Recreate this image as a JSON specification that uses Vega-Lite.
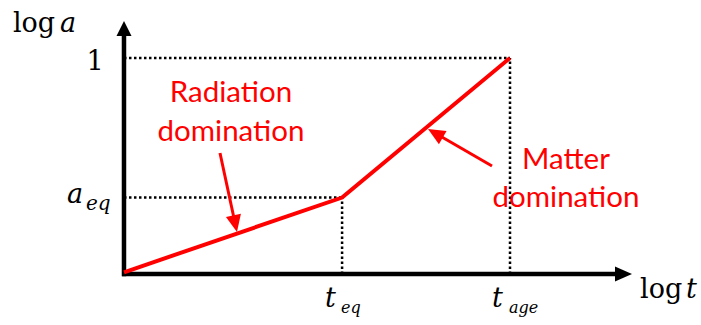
{
  "$schema": "https://vega.github.io/schema/vega-lite/v6.json",
  "width": 701,
  "height": 325,
  "autosize": {"type": "fit", "contains": "padding"},
  "padding": 0,
  "background": "white",
  "config": {"view": {"stroke": null}},
  "datasets": {
    "segs": [
      {"kind": "axis", "x": -0.005, "y": 0, "x2": 1.275, "y2": 0},
      {"kind": "axis", "x": 0, "y": -0.01, "x2": 0, "y2": 1.105},
      {"kind": "dot", "x": 0, "y": 1, "x2": 1, "y2": 1},
      {"kind": "dot", "x": 0, "y": 0.354, "x2": 0.565, "y2": 0.354},
      {"kind": "dot", "x": 0.565, "y": 0, "x2": 0.565, "y2": 0.354},
      {"kind": "dot", "x": 1, "y": 0, "x2": 1, "y2": 1},
      {"kind": "arrow", "x": 0.2487, "y": 0.5602, "x2": 0.2881, "y2": 0.2329},
      {"kind": "arrow", "x": 0.9534, "y": 0.5, "x2": 0.8067, "y2": 0.6516}
    ],
    "curve": [
      {"x": 0, "y": 0.008},
      {"x": 0.565, "y": 0.354},
      {"x": 1, "y": 1}
    ],
    "heads": [
      {"kind": "xaxis", "x": 1.294, "y": 0},
      {"kind": "yaxis", "x": 0, "y": 1.1366},
      {"kind": "rad", "x": 0.2881, "y": 0.2329},
      {"kind": "mat", "x": 0.8067, "y": 0.6516}
    ],
    "labels": [
      {"kind": "serif", "x": -0.2876, "y": 1.1204, "text": "log"},
      {"kind": "ital", "x": -0.1658, "y": 1.1204, "text": "a"},
      {"kind": "serif", "x": 1.3368, "y": -0.1111, "text": "log"},
      {"kind": "ital", "x": 1.456, "y": -0.1111, "text": "t"},
      {"kind": "one", "x": -0.0751, "y": 0.9444, "text": "1"},
      {"kind": "ital", "x": -0.1477, "y": 0.3287, "text": "a"},
      {"kind": "sub20", "x": -0.0984, "y": 0.2963, "text": "eq"},
      {"kind": "ital", "x": 0.5207, "y": -0.1528, "text": "t"},
      {"kind": "sub16", "x": 0.5622, "y": -0.1806, "text": "eq"},
      {"kind": "ital", "x": 0.9534, "y": -0.1528, "text": "t"},
      {"kind": "sub16", "x": 0.9974, "y": -0.1806, "text": "age"},
      {"kind": "red", "x": 0.2772, "y": 0.7963, "text": "Radiation"},
      {"kind": "red", "x": 0.2772, "y": 0.6157, "text": "domination"},
      {"kind": "red", "x": 1.1451, "y": 0.4861, "text": "Matter"},
      {"kind": "red", "x": 1.1451, "y": 0.3102, "text": "domination"}
    ]
  },
  "encoding": {
    "x": {"field": "x", "type": "quantitative", "axis": null,
          "scale": {"domain": [-0.3212, 1.4948], "nice": false, "zero": false}},
    "y": {"field": "y", "type": "quantitative", "axis": null,
          "scale": {"domain": [-0.2361, 1.2685], "nice": false, "zero": false}}
  },
  "layer": [
    {
      "data": {"name": "segs"},
      "transform": [{"filter": "datum.kind === 'dot'"}],
      "mark": {"type": "rule", "color": "black", "strokeWidth": 2.5, "strokeDash": [2.5, 2.5]},
      "encoding": {"x2": {"field": "x2"}, "y2": {"field": "y2"}}
    },
    {
      "data": {"name": "segs"},
      "transform": [{"filter": "datum.kind === 'axis'"}],
      "mark": {"type": "rule", "color": "black", "strokeWidth": 4.5},
      "encoding": {"x2": {"field": "x2"}, "y2": {"field": "y2"}}
    },
    {
      "data": {"name": "curve"},
      "mark": {"type": "line", "color": "#ff0000", "strokeWidth": 4, "strokeJoin": "miter"},
      "encoding": {"order": {"field": "x", "type": "quantitative"}}
    },
    {
      "data": {"name": "segs"},
      "transform": [{"filter": "datum.kind === 'arrow'"}],
      "mark": {"type": "rule", "color": "#ff0000", "strokeWidth": 3},
      "encoding": {"x2": {"field": "x2"}, "y2": {"field": "y2"}}
    },
    {
      "data": {"name": "heads"},
      "transform": [{"filter": "datum.kind === 'xaxis'"}],
      "mark": {"type": "point", "filled": true, "color": "black", "opacity": 1, "strokeWidth": 0,
               "shape": "M1,0 L-1,-0.88 L-1,0.88 Z", "size": 289}
    },
    {
      "data": {"name": "heads"},
      "transform": [{"filter": "datum.kind === 'yaxis'"}],
      "mark": {"type": "point", "filled": true, "color": "black", "opacity": 1, "strokeWidth": 0,
               "shape": "M0,-1 L-1,1 L1,1 Z", "size": 225}
    },
    {
      "data": {"name": "heads"},
      "transform": [{"filter": "datum.kind === 'rad'"}],
      "mark": {"type": "point", "filled": true, "color": "#ff0000", "opacity": 1, "strokeWidth": 0,
               "shape": "M0,-1 L-0.9,1 L0.9,1 Z", "size": 289, "angle": 168}
    },
    {
      "data": {"name": "heads"},
      "transform": [{"filter": "datum.kind === 'mat'"}],
      "mark": {"type": "point", "filled": true, "color": "#ff0000", "opacity": 1, "strokeWidth": 0,
               "shape": "M0,-1 L-0.9,1 L0.9,1 Z", "size": 289, "angle": 300}
    },
    {
      "data": {"name": "labels"},
      "transform": [{"filter": "datum.kind === 'serif'"}],
      "mark": {"type": "text", "font": "DejaVu Serif", "fontSize": 27, "align": "left", "baseline": "alphabetic", "color": "black"},
      "encoding": {"text": {"field": "text"}}
    },
    {
      "data": {"name": "labels"},
      "transform": [{"filter": "datum.kind === 'one'"}],
      "mark": {"type": "text", "font": "DejaVu Serif", "fontSize": 27, "align": "center", "baseline": "alphabetic", "color": "black"},
      "encoding": {"text": {"field": "text"}}
    },
    {
      "data": {"name": "labels"},
      "transform": [{"filter": "datum.kind === 'ital'"}],
      "mark": {"type": "text", "font": "DejaVu Serif", "fontStyle": "italic", "fontSize": 27, "align": "left", "baseline": "alphabetic", "color": "black"},
      "encoding": {"text": {"field": "text"}}
    },
    {
      "data": {"name": "labels"},
      "transform": [{"filter": "datum.kind === 'sub20'"}],
      "mark": {"type": "text", "font": "DejaVu Serif", "fontStyle": "italic", "fontSize": 20, "align": "left", "baseline": "alphabetic", "color": "black"},
      "encoding": {"text": {"field": "text"}}
    },
    {
      "data": {"name": "labels"},
      "transform": [{"filter": "datum.kind === 'sub16'"}],
      "mark": {"type": "text", "font": "DejaVu Serif", "fontStyle": "italic", "fontSize": 16, "align": "left", "baseline": "alphabetic", "color": "black"},
      "encoding": {"text": {"field": "text"}}
    },
    {
      "data": {"name": "labels"},
      "transform": [{"filter": "datum.kind === 'red'"}],
      "mark": {"type": "text", "font": "Lato", "fontSize": 29.5, "align": "center", "baseline": "alphabetic", "color": "#ff0000"},
      "encoding": {"text": {"field": "text"}}
    }
  ]
}
